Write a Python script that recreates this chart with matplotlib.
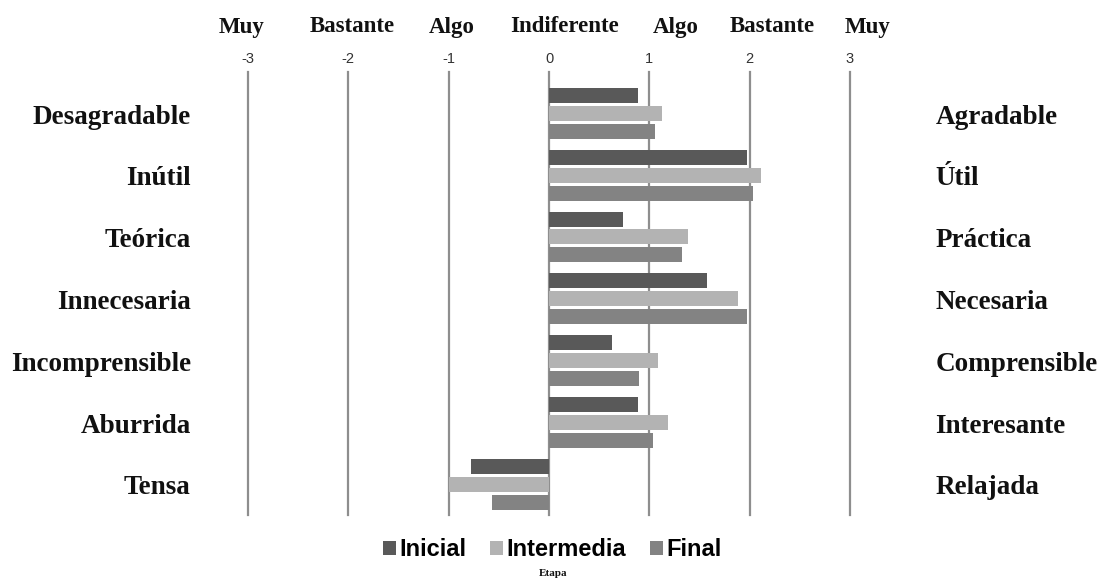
import matplotlib.pyplot as plt
import numpy as np

# escalas semanticas (7 pares de adjetivos), valores medios por etapa
izq = ["Desagradable", "Inútil", "Teórica", "Innecesaria", "Incomprensible", "Aburrida", "Tensa"]
der = ["Agradable", "Útil", "Práctica", "Necesaria", "Comprensible", "Interesante", "Relajada"]
inicial = [0.89, 1.97, 0.74, 1.57, 0.63, 0.89, -0.78]
intermedia = [1.13, 2.11, 1.39, 1.88, 1.09, 1.19, -1.00]
final = [1.06, 2.03, 1.33, 1.97, 0.90, 1.04, -0.57]
etapas = ["Inicial", "Intermedia", "Final"]
colores = ["#595959", "#b3b3b3", "#838383"]
ticks = [-3, -2, -1, 0, 1, 2, 3]
niveles = ["Muy", "Bastante", "Algo", "Indiferente", "Algo", "Bastante", "Muy"]
niveles_px = [242, 352, 452, 565, 676, 772, 868]

W, H = 1102, 586
fig = plt.figure(figsize=(W / 100, H / 100), dpi=100)
ax = fig.add_axes([248 / W, (H - 515) / H, (850 - 248) / W, (515 - 72) / H])

y = np.arange(len(izq))
alto = 0.243
paso = 0.29
for k, (vals, nom, col) in enumerate(zip([inicial, intermedia, final], etapas, colores)):
    ax.barh(y + (k - 1) * paso, vals, height=alto, color=col, label=nom, zorder=3)

ax.set_xlim(-3, 3)
ax.set_ylim(6.5, -0.67)
for t in ticks:
    ax.axvline(t, color="#8e8e8e", lw=1.6, zorder=1, clip_on=False)
for s in ax.spines.values():
    s.set_visible(False)
ax.set_yticks([])
ax.xaxis.tick_top()
ax.set_xticks(ticks)
ax.set_xticklabels([str(t) for t in ticks], fontsize=10.5, color="#333333",
                   family="Liberation Sans")
ax.tick_params(axis="x", length=0, pad=4)

serif = dict(family="Liberation Serif", weight="bold", color="#111111")
for i, (a, b) in enumerate(zip(izq, der)):
    ax.text(-3.57, i + 0.06, a, ha="right", va="center", fontsize=19.5, clip_on=False, **serif)
    ax.text(3.85, i + 0.06, b, ha="left", va="center", fontsize=19.5, clip_on=False, **serif)

for px, txt in zip(niveles_px, niveles):
    fig.text(px / W, 1 - 27 / H, txt, ha="center", va="center", fontsize=16.5, **serif)

fig.legend(loc="center", bbox_to_anchor=(552 / W, 1 - 550 / H), ncol=3, frameon=False,
           prop=dict(family="Liberation Sans", weight="bold", size=17),
           handlelength=0.55, handleheight=0.55, handletextpad=0.15, columnspacing=1.0)
fig.text(553 / W, 1 - 573 / H, "Etapa", ha="center", va="center", fontsize=8, **serif)

fig.savefig("out.png", dpi=100, facecolor="white")
